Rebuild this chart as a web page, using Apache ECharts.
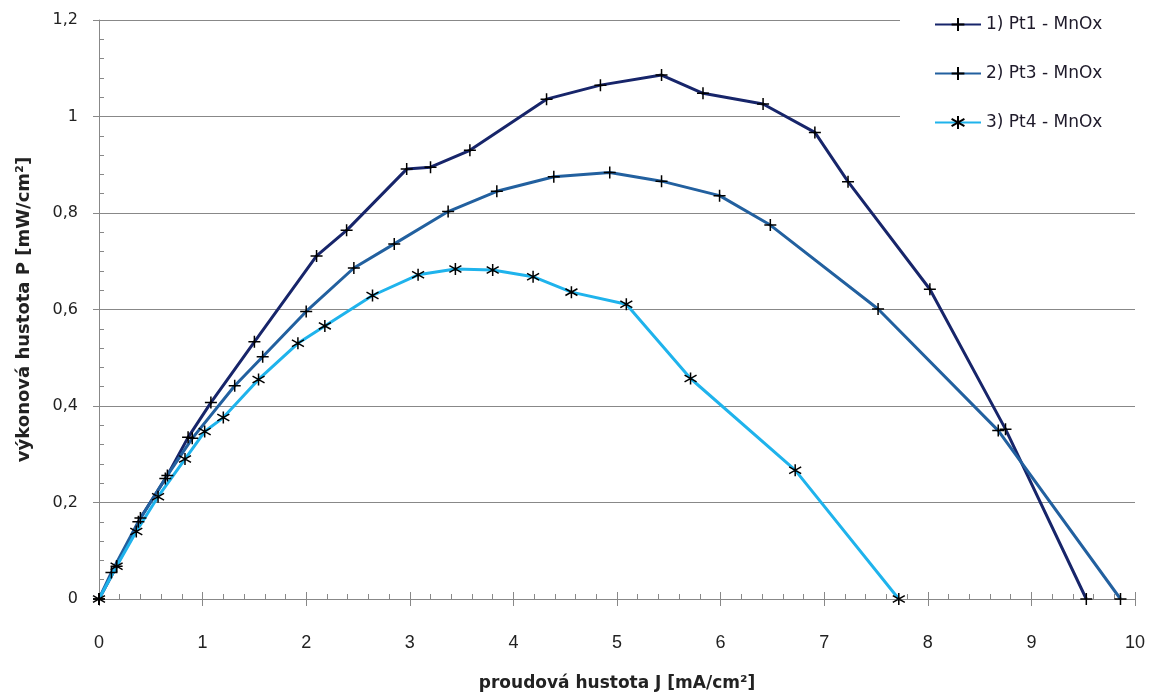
<!DOCTYPE html>
<html>
<head>
<meta charset="utf-8">
<script src="https://cdn.jsdelivr.net/npm/echarts@6/dist/echarts.min.js"></script>
<style>
html,body{margin:0;padding:0;background:#fff;}
#chart{width:1154px;height:697px;}
</style>
</head>
<body>
<div id="chart"></div>
<script>
// ---- data ----
const seriesNames = ['1) Pt1 - MnOx', '2) Pt3 - MnOx', '3) Pt4 - MnOx'];

const pt1J = [0, 0.17, 0.4, 0.66, 0.86, 1.08, 1.5, 2.1, 2.39, 2.97, 3.2, 3.58, 4.32, 4.84, 5.43, 5.83, 6.41, 6.91, 7.23, 8.02, 8.75, 9.53];
const pt1P = [0, 0.068, 0.168, 0.256, 0.335, 0.407, 0.533, 0.711, 0.764, 0.891, 0.895, 0.93, 1.036, 1.065, 1.086, 1.048, 1.026, 0.967, 0.865, 0.642, 0.352, 0];

const pt3J = [0, 0.12, 0.38, 0.64, 0.9, 1.31, 1.58, 2.0, 2.46, 2.85, 3.37, 3.84, 4.39, 4.93, 5.43, 5.99, 6.48, 7.52, 8.68, 9.86];
const pt3P = [0, 0.055, 0.16, 0.25, 0.333, 0.442, 0.502, 0.596, 0.686, 0.736, 0.803, 0.845, 0.875, 0.884, 0.866, 0.836, 0.775, 0.601, 0.349, 0];

const pt4J = [0, 0.17, 0.36, 0.57, 0.83, 1.02, 1.2, 1.54, 1.92, 2.18, 2.64, 3.08, 3.44, 3.8, 4.19, 4.56, 5.09, 5.71, 6.72, 7.72];
const pt4P = [0, 0.068, 0.14, 0.212, 0.29, 0.347, 0.376, 0.455, 0.53, 0.566, 0.629, 0.672, 0.684, 0.682, 0.668, 0.636, 0.611, 0.457, 0.267, 0];

const xTickLabels = ['0', '1', '2', '3', '4', '5', '6', '7', '8', '9', '10'];
const yTickLabels = ['0', '0,2', '0,4', '0,6', '0,8', '1', '1,2'];

const xAxisName = 'proudová hustota J [mA/cm²]';
const yAxisName = 'výkonová hustota P [mW/cm²]';

// ---- chart ----
const pairs = (xs, ys) => xs.map((x, i) => [x, ys[i]]);
const PLUS = 'path://M5,0L5,10M0,5L10,5';
const STAR = 'path://M5,0L5,10M0.7,2.2L9.3,7.8M0.7,7.8L9.3,2.2';
const AX = '#888888';
const txt = '#222222';

function mkSeries(name, xs, ys, color, symbol) {
  return {
    name: name,
    type: 'line',
    xAxisIndex: 0,
    yAxisIndex: 0,
    data: pairs(xs, ys),
    smooth: false,
    symbol: symbol,
    symbolSize: 12,
    showAllSymbol: true,
    lineStyle: { color: color, width: 3 },
    itemStyle: { color: 'rgba(0,0,0,0)', borderColor: '#000', borderWidth: 1.5 },
    emphasis: { disabled: true },
    animation: false
  };
}

const chart = echarts.init(document.getElementById('chart'), null, { renderer: 'canvas' });
chart.setOption({
  backgroundColor: '#ffffff',
  animation: false,
  grid: { left: 99, right: 19, top: 20, bottom: 92, containLabel: false },
  legend: {
    orient: 'vertical',
    left: 900,
    top: 0,
    padding: [16, 40, 22, 34],
    itemGap: 32,
    itemWidth: 46,
    itemHeight: 16,
    backgroundColor: '#ffffff',
    textStyle: { fontFamily: 'DejaVu Sans', fontSize: 17, color: '#1e1a2a' },
    data: seriesNames
  },
  xAxis: [
    {
      type: 'value', position: 'bottom', min: 0, max: 10, interval: 1,
      axisLine: { lineStyle: { color: AX, width: 1 } },
      axisTick: { show: true, inside: true, length: 7, lineStyle: { color: AX } },
      minorTick: { show: true, splitNumber: 5, length: 5, lineStyle: { color: AX } },
      splitLine: { show: false },
      axisLabel: {
        margin: 35, fontFamily: 'Liberation Sans Narrow, Liberation Sans', fontSize: 18, color: txt,
        formatter: (v) => xTickLabels[Math.round(v)]
      },
      name: xAxisName, nameLocation: 'middle', nameGap: 76,
      nameTextStyle: { fontFamily: 'DejaVu Sans', fontWeight: 'bold', fontSize: 17, color: txt }
    },
    {
      type: 'value', position: 'bottom', min: 0, max: 10, interval: 1,
      axisLine: { show: false },
      axisTick: { show: true, inside: false, length: 7, lineStyle: { color: AX } },
      axisLabel: { show: false },
      splitLine: { show: false }
    }
  ],
  yAxis: [
    {
      type: 'value', position: 'left', min: 0, max: 1.2, interval: 0.2,
      axisLine: { show: true, lineStyle: { color: AX, width: 1 } },
      axisTick: { show: false, inside: true },
      minorTick: { show: true, splitNumber: 5, length: 5, lineStyle: { color: AX } },
      splitLine: { show: true, lineStyle: { color: AX, width: 1 } },
      axisLabel: {
        margin: 21, fontFamily: 'DejaVu Sans', fontSize: 16, color: txt,
        formatter: (v) => yTickLabels[Math.round(v / 0.2)]
      },
      name: yAxisName, nameLocation: 'middle', nameGap: 66, nameRotate: 90,
      nameTextStyle: { fontFamily: 'DejaVu Sans', fontWeight: 'bold', fontSize: 18, color: txt }
    },
    {
      type: 'value', position: 'left', min: 0, max: 1.2, interval: 0.2,
      axisLine: { show: false },
      axisTick: { show: true, inside: false, length: 6, lineStyle: { color: AX } },
      axisLabel: { show: false },
      splitLine: { show: false }
    }
  ],
  series: [
    mkSeries(seriesNames[0], pt1J, pt1P, '#17256a', PLUS),
    mkSeries(seriesNames[1], pt3J, pt3P, '#22609f', PLUS),
    mkSeries(seriesNames[2], pt4J, pt4P, '#1fb3ec', STAR)
  ]
});
</script>
</body>
</html>
